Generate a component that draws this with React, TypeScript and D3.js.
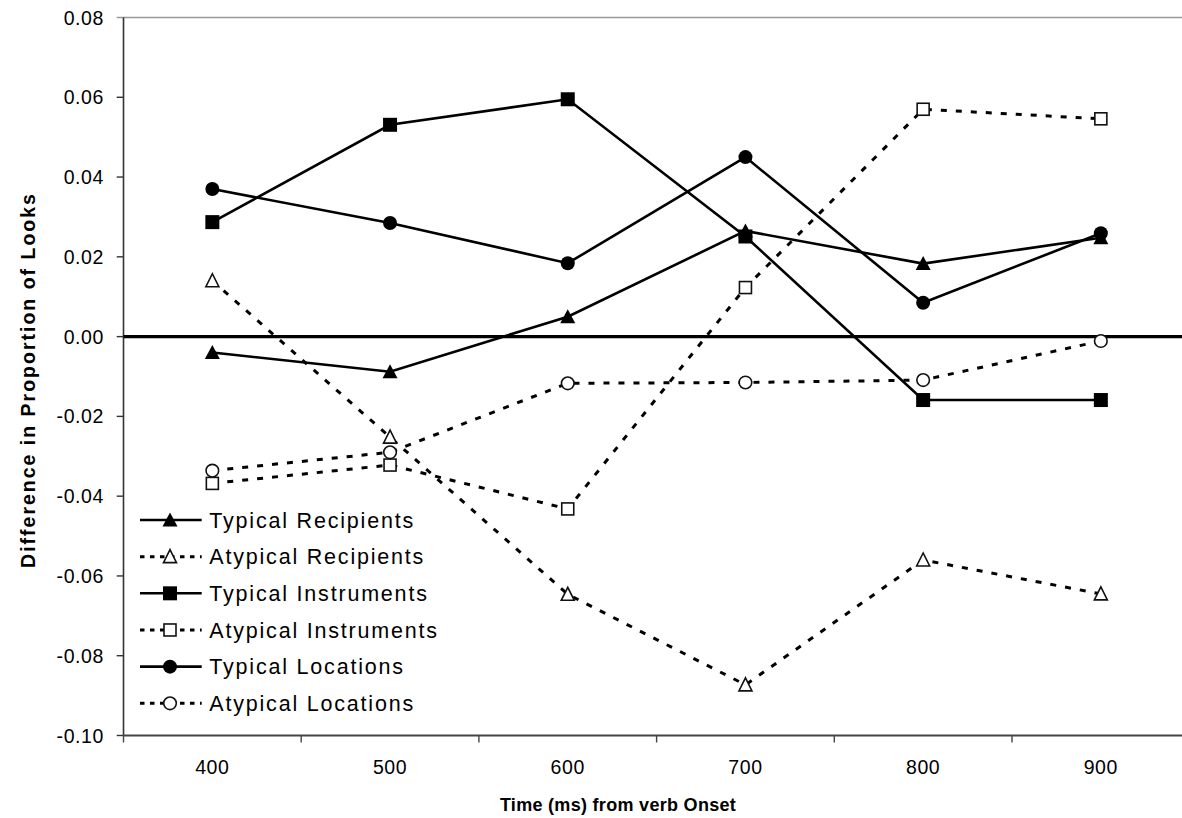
import * as d3 from 'd3';

const times = ['400', '500', '600', '700', '800', '900'];

const typicalRecipients = [-0.004, -0.0088, 0.005, 0.0265, 0.0183, 0.0248];
const atypicalRecipients = [0.014, -0.0252, -0.0646, -0.0873, -0.056, -0.0645];
const typicalInstruments = [0.0287, 0.0531, 0.0595, 0.0251, -0.0159, -0.0159];
const atypicalInstruments = [-0.0368, -0.0322, -0.0432, 0.0123, 0.057, 0.0546];
const typicalLocations = [0.037, 0.0285, 0.0184, 0.045, 0.0085, 0.0259];
const atypicalLocations = [-0.0336, -0.029, -0.0117, -0.0115, -0.0109, -0.0011];

const yTicks = [0.08, 0.06, 0.04, 0.02, 0, -0.02, -0.04, -0.06, -0.08, -0.1];

const series = [
  { name: 'Typical Recipients', values: typicalRecipients, shape: 'triangle', filled: true },
  { name: 'Atypical Recipients', values: atypicalRecipients, shape: 'triangle', filled: false },
  { name: 'Typical Instruments', values: typicalInstruments, shape: 'square', filled: true },
  { name: 'Atypical Instruments', values: atypicalInstruments, shape: 'square', filled: false },
  { name: 'Typical Locations', values: typicalLocations, shape: 'circle', filled: true },
  { name: 'Atypical Locations', values: atypicalLocations, shape: 'circle', filled: false },
];

const W = 1182;
const H = 818;
const left = 123.5;
const top = 17.5;
const bottom = 735.5;
const font = '"Liberation Sans", Arial, sans-serif';

function Marker({ shape, filled, cx, cy }) {
  const fill = filled ? '#000' : '#fff';
  const stroke = filled ? 'none' : '#111';
  const sw = filled ? 0 : 1.6;
  if (shape === 'triangle') {
    const pts = filled
      ? [[cx, cy - 7.5], [cx - 7.5, cy + 6.5], [cx + 7.5, cy + 6.5]]
      : [[cx, cy - 7], [cx - 6.5, cy + 6], [cx + 6.5, cy + 6]];
    return <polygon points={pts.map(p => p.join(',')).join(' ')} fill={fill} stroke={stroke} strokeWidth={sw} />;
  }
  if (shape === 'square') {
    const s = filled ? 14 : 12;
    return <rect x={cx - s / 2} y={cy - s / 2} width={s} height={s} fill={fill} stroke={stroke} strokeWidth={sw} />;
  }
  return <circle cx={cx} cy={cy} r={filled ? 7 : 6.3} fill={fill} stroke={stroke} strokeWidth={sw} />;
}

export default function App() {
  const x = d3.scaleBand().domain(times).range([left, 1189.7]).paddingInner(0).paddingOuter(0);
  const y = d3.scaleLinear().domain([-0.1, 0.08]).range([bottom, top]);
  const cx = (t) => x(t) + x.bandwidth() / 2;

  const line = d3.line()
    .x((d, i) => cx(times[i]))
    .y(d => y(d));

  const bounds = times.map(t => x(t)).concat([x(times[times.length - 1]) + x.bandwidth()]);

  const legendY = d3.scaleLinear().domain([0, 5]).range([520, 703.3]);

  return (
    <svg width={W} height={H} style={{ position: 'absolute', left: 0, top: 0, background: '#fff' }}>
      {/* frame */}
      <line x1={116.7} x2={W} y1={top} y2={top} stroke="#999" strokeWidth={1.6} />
      <line x1={left} x2={left} y1={top} y2={bottom} stroke="#333" strokeWidth={1.6} />
      <line x1={left} x2={W} y1={bottom} y2={bottom} stroke="#444" strokeWidth={1.8} />

      {/* y ticks */}
      {yTicks.map((t, i) => (
        <g key={'y' + i}>
          {i > 0 && <line x1={116.7} x2={left} y1={y(t)} y2={y(t)} stroke="#333" strokeWidth={1.4} />}
          <text x={104} y={y(t)} dy="0.36em" textAnchor="end" fontFamily={font} fontSize={19.5}
            style={{ letterSpacing: '0.6px' }}>
            {t.toFixed(2)}
          </text>
        </g>
      ))}

      {/* x ticks */}
      {bounds.map((b, i) => (
        <line key={'xt' + i} x1={b} x2={b} y1={bottom} y2={bottom + 7} stroke="#444" strokeWidth={1.4} />
      ))}
      {times.map(t => (
        <text key={'xl' + t} x={cx(t)} y={774} textAnchor="middle" fontFamily={font} fontSize={19.5}
          style={{ letterSpacing: '0.6px' }}>
          {t}
        </text>
      ))}

      {/* zero line */}
      <line x1={left} x2={W} y1={y(0)} y2={y(0)} stroke="#000" strokeWidth={3.3} />

      {/* series lines */}
      {series.map(s => (
        <path key={'l' + s.name} d={line(s.values)} fill="none" stroke="#000"
          strokeWidth={s.filled ? 2.6 : 3}
          strokeDasharray={s.filled ? null : '6,9'} />
      ))}
      {series.map(s => (
        <g key={'m' + s.name}>
          {s.values.map((v, i) => (
            <Marker key={i} shape={s.shape} filled={s.filled} cx={cx(times[i])} cy={y(v)} />
          ))}
        </g>
      ))}

      {/* legend */}
      {series.map((s, i) => (
        <g key={'lg' + s.name}>
          <line x1={140} x2={201.7} y1={legendY(i)} y2={legendY(i)} stroke="#000"
            strokeWidth={s.filled ? 2.6 : 3} strokeDasharray={s.filled ? null : '4.5,5.5'} />
          <Marker shape={s.shape} filled={s.filled} cx={170} cy={legendY(i)} />
          <text x={209.3} y={legendY(i)} dy="0.36em" fontFamily={font} fontSize={21.5}
            style={{ letterSpacing: '1.8px' }}>
            {s.name}
          </text>
        </g>
      ))}

      {/* axis titles */}
      <text x={618} y={811} textAnchor="middle" fontFamily={font} fontSize={18} fontWeight="bold"
        style={{ letterSpacing: '0.3px' }}>
        Time (ms) from verb Onset
      </text>
      <text transform="translate(35,380) rotate(-90)" textAnchor="middle" fontFamily={font} fontSize={19.5}
        fontWeight="bold" style={{ letterSpacing: '2px' }}>
        Difference in Proportion of Looks
      </text>
    </svg>
  );
}
